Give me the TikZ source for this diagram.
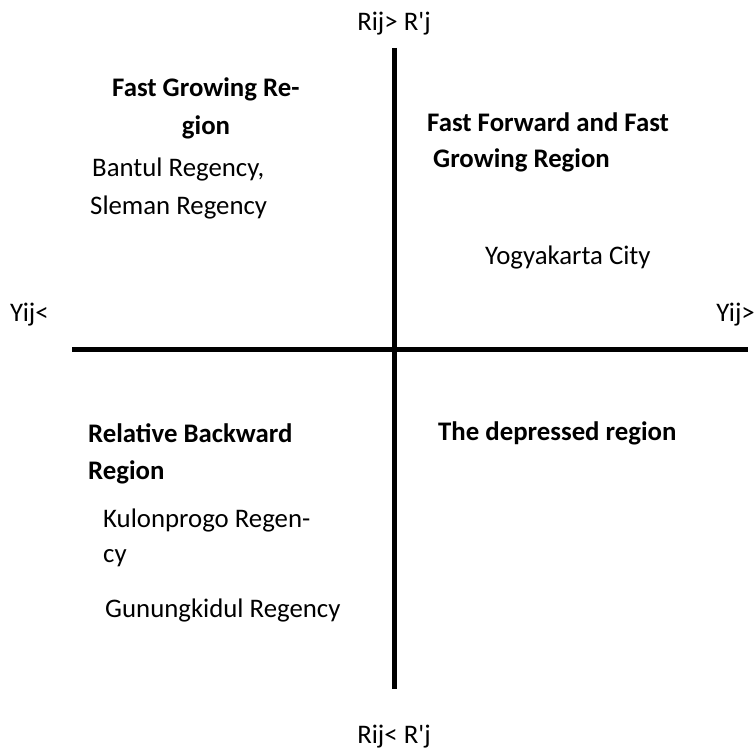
\documentclass[tikz,border=0pt]{standalone}
\usepackage{fontspec}
\setmainfont{Carlito}
\tikzset{
  txt/.style={anchor=west, inner sep=0pt, font=\fontsize{26.8}{30}\selectfont},
  head/.style={txt, font=\fontsize{26.8}{30}\selectfont\bfseries},
  axis/.style={line width=5pt}
}
\begin{document}
\begin{tikzpicture}[x=1pt, y=-1pt]
			\useasboundingbox (0,0) rectangle (755,751);
			\coordinate (top) at (394,48);
			\coordinate (bottom) at (394,689);
			\coordinate (left) at (72,349);
			\coordinate (right) at (748,349);
			\draw[axis] (top) -- (bottom);
			\draw[axis] (left) -- (right);
			\node[txt, anchor=center] (rtop) at (394,24) {Rij> R\textquotesingle j};
			\node[txt, anchor=center] (rbot) at (394,737) {Rij< R\textquotesingle j};
			\node[txt] (yleft) at (10,315) {Yij<};
			\node[txt, anchor=east] (yright) at (755,315) {Yij>};
			\node[head] (fg1) at (112,89) {Fast Growing Re-};
			\node[head, anchor=center] (fg2) at (206,127) {gion};
			\node[txt] (bantul) at (92,170) {Bantul Regency,};
			\node[txt] (sleman) at (90,208) {Sleman Regency};
			\node[head] (ff1) at (427,122) {Fast Forward and Fast};
			\node[head] (ff2) at (433,160) {Growing Region};
			\node[txt] (yogya) at (485,257) {Yogyakarta City};
			\node[head] (rb1) at (88,433) {Relative Backward};
			\node[head] (rb2) at (88,472) {Region};
			\node[txt] (kulon1) at (103,520) {Kulonprogo Regen-};
			\node[txt] (kulon2) at (103,558) {cy};
			\node[txt] (gunung) at (105,610) {Gunungkidul Regency};
			\node[head] (dep) at (438,433) {The depressed region};
		\end{tikzpicture}
\end{document}
